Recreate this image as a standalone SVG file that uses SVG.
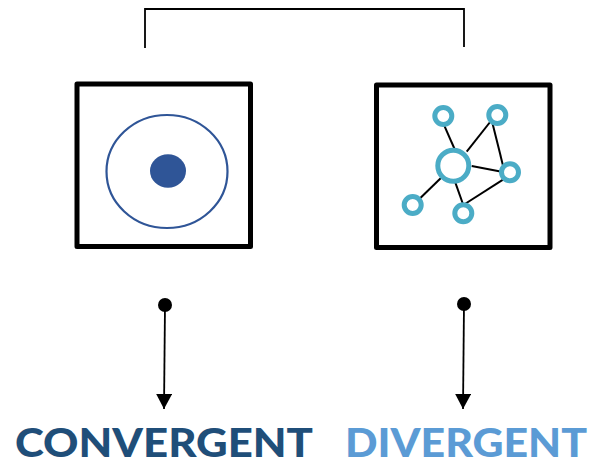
<svg xmlns="http://www.w3.org/2000/svg" width="592" height="463" viewBox="0 0 592 463">
<style>
.box{fill:#fff;stroke:#000;stroke-width:5;stroke-linejoin:round}
.ring{fill:#fff;stroke:#4BACC6;stroke-width:5}
.edge{stroke:#000;stroke-width:2;fill:none}
.conn{stroke:#000;stroke-width:1.8;fill:none}
.lbl{font-family:Lato,"Liberation Sans",sans-serif;font-weight:900;font-size:40px}
</style>
<defs>
<marker id="ah" markerWidth="16" markerHeight="16" viewBox="0 0 16 16" refX="15" refY="8" orient="auto" markerUnits="userSpaceOnUse">
<path d="M0,0 L15,8 L0,16 Z" fill="#000"/>
</marker>
</defs>
<rect width="592" height="463" fill="#fff"/>
<g id="connectors">
<polyline class="conn" points="145,48 145,9 464,9 464,47"/>
<circle cx="165" cy="305" r="7" fill="#000"/>
<line class="conn" x1="165" y1="305" x2="164" y2="409" marker-end="url(#ah)"/>
<circle cx="464" cy="304" r="7" fill="#000"/>
<line class="conn" x1="464" y1="304" x2="463" y2="409" marker-end="url(#ah)"/>
</g>
<g id="convergent-box">
<rect class="box" x="77" y="84" width="173.5" height="162.5"/>
<ellipse cx="167" cy="171.5" rx="60.5" ry="56.5" fill="none" stroke="#2F5597" stroke-width="2.2"/>
<ellipse cx="168" cy="171" rx="18" ry="16.7" fill="#2F5597"/>
</g>
<g id="divergent-box">
<rect class="box" x="376.5" y="85" width="173.5" height="162.5"/>
<g class="edge-group">
<line class="edge" x1="443.3" y1="123.3" x2="455" y2="150"/>
<line class="edge" x1="491.7" y1="120" x2="466.7" y2="151.7"/>
<line class="edge" x1="491.7" y1="120" x2="503.3" y2="166.7"/>
<line class="edge" x1="471.7" y1="166" x2="501.7" y2="171.7"/>
<line class="edge" x1="441.7" y1="177.3" x2="418.3" y2="200"/>
<line class="edge" x1="455" y1="181.7" x2="463.3" y2="205"/>
<line class="edge" x1="463.3" y1="205" x2="505" y2="178.3"/>
</g>
<circle class="ring" cx="443.3" cy="116" r="8.5"/>
<circle class="ring" cx="497.3" cy="115" r="8.5"/>
<circle class="ring" cx="453.3" cy="165.7" r="15.5" stroke-width="5.5"/>
<circle class="ring" cx="510" cy="172.3" r="8.5"/>
<circle class="ring" cx="412.7" cy="205" r="8.5"/>
<circle class="ring" cx="463.3" cy="213.3" r="8.5"/>
</g>
<g id="labels">
<text class="lbl" x="15" y="456.5" fill="#1F4E79" textLength="298" lengthAdjust="spacingAndGlyphs">CONVERGENT</text>
<text class="lbl" x="345" y="456.5" fill="#5B9BD5" textLength="242" lengthAdjust="spacingAndGlyphs">DIVERGENT</text>
</g>
</svg>
